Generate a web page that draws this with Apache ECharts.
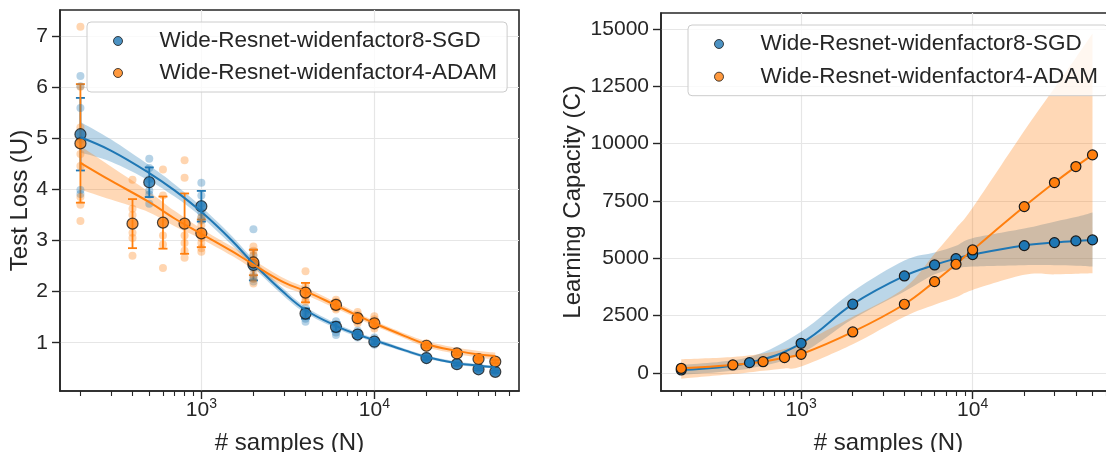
<!DOCTYPE html>
<html>
<head>
<meta charset="utf-8">
<script src="https://cdn.jsdelivr.net/npm/echarts@6/dist/echarts.min.js"></script>
<style>
  html, body { margin: 0; padding: 0; background: #ffffff; }
  #chart { width: 1106px; height: 452px; }
</style>
</head>
<body>
<div id="chart"></div>
<script>
const SGD_NAME = 'Wide-Resnet-widenfactor8-SGD';
const ADAM_NAME = 'Wide-Resnet-widenfactor4-ADAM';

// ---- Test loss (left panel) ----
const sgdSamples = [200, 500, 1000, 2000, 4000, 6000, 8000, 10000, 20000, 30000, 40000, 50000];
const sgdLossMean = [5.08, 4.14, 3.67, 2.52, 1.57, 1.31, 1.16, 1.02, 0.70, 0.58, 0.48, 0.43];
const sgdLossStd = [0.71, 0.29, 0.30, 0.30, 0.10, 0.09, 0.06, 0.05, 0.03, 0.03, 0.02, 0.02];
const sgdLossRuns = [
  [6.22, 6.02, 5.59, 4.97, 3.99, 3.91],
  [4.60, 4.42, 4.20, 3.98, 3.90, 3.72],
  [4.13, 3.88, 3.72, 3.55, 3.45, 3.39],
  [3.22, 2.70, 2.55, 2.45, 2.30, 2.25, 2.20],
  [1.68, 1.62, 1.57, 1.52, 1.47, 1.41],
  [1.42, 1.36, 1.31, 1.26, 1.20, 1.15],
  [1.24, 1.20, 1.16, 1.13, 1.10],
  [1.10, 1.06, 1.02, 0.99, 0.96],
  [0.75, 0.72, 0.70, 0.68, 0.66],
  [0.62, 0.60, 0.58, 0.56],
  [0.51, 0.49, 0.48, 0.46],
  [0.46, 0.44, 0.43, 0.41]
];

const adamSamples = [200, 400, 600, 800, 1000, 2000, 4000, 6000, 8000, 10000, 20000, 30000, 40000, 50000];
const adamLossMean = [4.90, 3.33, 3.35, 3.33, 3.14, 2.57, 1.98, 1.74, 1.48, 1.38, 0.94, 0.79, 0.68, 0.63];
const adamLossStd = [1.16, 0.48, 0.51, 0.59, 0.27, 0.25, 0.19, 0.08, 0.07, 0.07, 0.04, 0.03, 0.03, 0.03];
const adamLossRuns = [
  [7.18, 6.01, 5.21, 5.10, 4.69, 4.46, 3.85, 3.70, 3.38],
  [4.19, 3.62, 3.50, 3.15, 3.05, 2.70],
  [4.39, 3.88, 3.35, 3.10, 2.92, 2.46],
  [4.57, 4.23, 3.10, 2.95, 2.80, 2.66],
  [3.45, 3.30, 3.15, 3.05, 2.95, 2.85, 2.78],
  [2.88, 2.80, 2.72, 2.62, 2.50, 2.35, 2.25, 2.16],
  [2.40, 2.10, 2.00, 1.92, 1.85, 1.80],
  [1.84, 1.80, 1.76, 1.72, 1.68, 1.65],
  [1.60, 1.55, 1.50, 1.46, 1.42, 1.38],
  [1.52, 1.46, 1.40, 1.36, 1.32, 1.28],
  [0.99, 0.96, 0.94, 0.92, 0.90],
  [0.83, 0.80, 0.79, 0.77],
  [0.71, 0.68, 0.67, 0.65],
  [0.66, 0.63, 0.61, 0.60]
];

// Fitted loss curves with confidence bands
const fitSamples = [200, 300, 500, 700, 1000, 1500, 2000, 3000, 4000, 6000, 8000, 10000, 15000, 20000, 30000, 40000, 50000];
const sgdFit = [5.02, 4.76, 4.32, 3.98, 3.56, 3.00, 2.55, 1.98, 1.64, 1.33, 1.16, 1.05, 0.85, 0.72, 0.60, 0.55, 0.52];
const sgdFitLow = [4.72, 4.54, 4.17, 3.86, 3.46, 2.91, 2.47, 1.91, 1.58, 1.28, 1.12, 1.01, 0.82, 0.69, 0.57, 0.52, 0.49];
const sgdFitHigh = [5.32, 4.98, 4.47, 4.10, 3.66, 3.09, 2.63, 2.05, 1.70, 1.38, 1.20, 1.09, 0.88, 0.75, 0.63, 0.58, 0.55];
const adamFit = [4.52, 4.17, 3.75, 3.43, 3.13, 2.79, 2.53, 2.18, 2.01, 1.73, 1.53, 1.38, 1.13, 0.97, 0.84, 0.77, 0.74];
const adamFitLow = [4.00, 3.80, 3.55, 3.28, 3.03, 2.70, 2.44, 2.10, 1.94, 1.67, 1.48, 1.33, 1.08, 0.91, 0.78, 0.71, 0.67];
const adamFitHigh = [4.85, 4.45, 3.95, 3.58, 3.23, 2.88, 2.62, 2.26, 2.08, 1.79, 1.58, 1.43, 1.18, 1.03, 0.90, 0.84, 0.81];

// ---- Learning capacity (right panel) ----
const sgdCapacity = [130, 450, 1295, 3000, 4232, 4712, 4987, 5162, 5555, 5686, 5759, 5803];
const sgdCapacityLow = [-80, 200, 850, 2350, 3550, 4300, 4550, 4640, 4700, 4700, 4680, 4640];
const sgdCapacityHigh = [350, 700, 1800, 3550, 4900, 5250, 5550, 5880, 6300, 6600, 6800, 7000];
const adamCapacity = [205, 350, 493, 668, 815, 1789, 2997, 3984, 4741, 5366, 7256, 8303, 9001, 9511];
const adamCapacityLow = [-250, -50, 100, 200, 280, 1250, 2450, 2970, 3300, 3620, 4280, 4300, 4330, 4350];
const adamCapacityHigh = [600, 700, 850, 1050, 1300, 2450, 3700, 5200, 6300, 7200, 10560, 12430, 13750, 14800];

// ---- Axis ticks ----
const xMajorTicks = [1000, 10000];
const xMinorTicks = [200, 300, 400, 500, 600, 700, 800, 900, 2000, 3000, 4000, 5000, 6000, 7000, 8000, 9000, 20000, 30000, 40000, 50000, 60000];
const lossTicks = [1, 2, 3, 4, 5, 6, 7];
const capacityTicks = [0, 2500, 5000, 7500, 10000, 12500, 15000];

// ---- Styling ----
const BLUE = '#1f77b4';
const ORANGE = '#ff7f0e';
const BLUE_BAND = 'rgba(31,119,180,0.30)';
const ORANGE_BAND = 'rgba(255,127,14,0.30)';
const INK = '#262626';
const GRIDLINE = '#e6e6e6';
const EDGE = '#1a1a1a';
const FONT = "'Liberation Sans', Arial, Helvetica, sans-serif";

const pairs = (xs, ys) => xs.map((x, i) => [x, ys[i]]);
const runPoints = (xs, runs) => xs.flatMap((x, i) => runs[i].map(v => [x, v]));

function majorXAxis(gridIndex) {
  return {
    type: 'log', logBase: 10, gridIndex, min: 152.4, max: 68550, position: 'bottom',
    name: '# samples (N)', nameLocation: 'middle', nameGap: 40,
    nameTextStyle: { fontFamily: FONT, fontSize: 24, color: INK },
    axisLine: { show: true, onZero: false, lineStyle: { color: INK, width: 1.6 } },
    axisTick: { show: true, inside: false, length: 8, customValues: xMajorTicks, lineStyle: { color: INK, width: 1.4 } },
    axisLabel: {
      customValues: xMajorTicks, margin: 6,
      formatter: v => '{b|10}{s|' + Math.round(Math.log10(v)) + '}',
      rich: {
        b: { fontFamily: FONT, fontSize: 21, color: INK, lineHeight: 24, verticalAlign: 'bottom', padding: [7, 0, 0, 0] },
        s: { fontFamily: FONT, fontSize: 14, color: INK, lineHeight: 16, verticalAlign: 'top' }
      }
    },
    splitLine: { show: true, lineStyle: { color: GRIDLINE, width: 1.2 } }
  };
}

function minorXAxis(gridIndex) {
  return {
    type: 'log', logBase: 10, gridIndex, min: 152.4, max: 68550, position: 'bottom',
    axisLine: { show: false, onZero: false },
    axisTick: { show: true, inside: false, length: 5, customValues: xMinorTicks, lineStyle: { color: INK, width: 1.1 } },
    axisLabel: { show: false },
    splitLine: { show: false }
  };
}

function valueYAxis(gridIndex, min, max, ticks, name, nameGap) {
  return {
    type: 'value', gridIndex, min, max,
    name, nameLocation: 'middle', nameGap,
    nameTextStyle: { fontFamily: FONT, fontSize: 24, color: INK },
    axisLine: { show: true, onZero: false, lineStyle: { color: INK, width: 1.6 } },
    axisTick: { show: true, inside: false, length: 8, customValues: ticks, lineStyle: { color: INK, width: 1.4 } },
    axisLabel: { customValues: ticks, margin: 12, formatter: v => String(v), fontFamily: FONT, fontSize: 21, color: INK },
    splitLine: { show: true, lineStyle: { color: GRIDLINE, width: 1.2 } }
  };
}

// Cubic Bezier segments through screen points (Catmull-Rom control points)
function smoothSegments(pts) {
  let d = '';
  for (let i = 0; i < pts.length - 1; i++) {
    const p0 = pts[Math.max(i - 1, 0)], p1 = pts[i], p2 = pts[i + 1], p3 = pts[Math.min(i + 2, pts.length - 1)];
    const c1x = p1[0] + (p2[0] - p0[0]) / 6, c1y = p1[1] + (p2[1] - p0[1]) / 6;
    const c2x = p2[0] - (p3[0] - p1[0]) / 6, c2y = p2[1] - (p3[1] - p1[1]) / 6;
    d += ' C ' + c1x + ' ' + c1y + ' ' + c2x + ' ' + c2y + ' ' + p2[0] + ' ' + p2[1];
  }
  return d;
}

// Shaded confidence band between a lower and an upper bound
function band(id, xs, lo, hi, fill, xi, yi) {
  return {
    type: 'custom', name: id, xAxisIndex: xi, yAxisIndex: yi, silent: true, clip: true,
    data: xs.map((x, i) => [x, lo[i], hi[i]]),
    encode: { x: 0, y: [1, 2] },
    renderItem(params, api) {
      if (params.dataIndex !== 0) return null;
      const top = xs.map((x, i) => api.coord([x, hi[i]]));
      const bottom = xs.map((x, i) => api.coord([x, lo[i]])).reverse();
      const d = 'M ' + top[0][0] + ' ' + top[0][1] + smoothSegments(top) +
        ' L ' + bottom[0][0] + ' ' + bottom[0][1] + smoothSegments(bottom) + ' Z';
      return { type: 'path', shape: { pathData: d }, style: { fill, stroke: null } };
    }
  };
}

function curve(id, xs, ys, color, xi, yi, withMarkers) {
  return {
    type: 'line', name: id, xAxisIndex: xi, yAxisIndex: yi, data: pairs(xs, ys),
    smooth: 0.4, silent: true,
    symbol: withMarkers ? 'circle' : 'none', symbolSize: 10, showSymbol: !!withMarkers,
    lineStyle: { color, width: 2 },
    itemStyle: { color, borderColor: EDGE, borderWidth: 1.2 }
  };
}

function errorBars(id, xs, mean, std, color, xi, yi) {
  return {
    type: 'custom', name: id, xAxisIndex: xi, yAxisIndex: yi, silent: true,
    data: xs.map((x, i) => [x, mean[i] - std[i], mean[i] + std[i]]),
    encode: { x: 0, y: [1, 2] },
    renderItem(params, api) {
      const x = api.value(0);
      const a = api.coord([x, api.value(1)]);
      const b = api.coord([x, api.value(2)]);
      const cap = 4.5;
      const style = { stroke: color, lineWidth: 1.8 };
      return {
        type: 'group', children: [
          { type: 'line', shape: { x1: a[0], y1: a[1], x2: b[0], y2: b[1] }, style },
          { type: 'line', shape: { x1: a[0] - cap, y1: a[1], x2: a[0] + cap, y2: a[1] }, style },
          { type: 'line', shape: { x1: b[0] - cap, y1: b[1], x2: b[0] + cap, y2: b[1] }, style }
        ]
      };
    }
  };
}

function runScatter(id, xs, runs, color) {
  return {
    type: 'scatter', name: id, xAxisIndex: 0, yAxisIndex: 0, silent: true,
    data: runPoints(xs, runs), symbolSize: 8,
    itemStyle: { color, opacity: 0.33 }
  };
}

function meanScatter(name, xs, ys, color) {
  return {
    type: 'scatter', name, xAxisIndex: 0, yAxisIndex: 0, silent: true,
    data: pairs(xs, ys), symbolSize: 11,
    itemStyle: { color, borderColor: EDGE, borderWidth: 1.2 }
  };
}

function legendBox(left, top, gap) {
  return {
    left, top, orient: 'vertical', selectedMode: false,
    itemWidth: 9, itemHeight: 9, itemGap: gap,
    padding: [7, 10, 7, 26],
    backgroundColor: 'rgba(255,255,255,0.8)', borderColor: '#cccccc', borderWidth: 1, borderRadius: 4,
    textStyle: { fontFamily: FONT, fontSize: 22.5, color: INK, lineHeight: 24, padding: [0, 0, 0, 32] },
    data: [
      { name: SGD_NAME, icon: 'circle', itemStyle: { color: BLUE, borderColor: EDGE, borderWidth: 1 } },
      { name: ADAM_NAME, icon: 'circle', itemStyle: { color: ORANGE, borderColor: EDGE, borderWidth: 1 } }
    ]
  };
}

const gridBase = {
  show: true, borderColor: INK, borderWidth: 1.6, backgroundColor: 'transparent',
  containLabel: false, outerBoundsMode: 'none'
};

const option = {
  animation: false,
  backgroundColor: '#ffffff',
  grid: [
    Object.assign({ left: 60, top: 10, width: 459, height: 381 }, gridBase),
    Object.assign({ left: 661, top: 13, width: 455, height: 378 }, gridBase)
  ],
  xAxis: [majorXAxis(0), minorXAxis(0), majorXAxis(1), minorXAxis(1)],
  yAxis: [
    valueYAxis(0, 0.055, 7.51, lossTicks, 'Test Loss (U)', 22),
    valueYAxis(1, -786, 15698, capacityTicks, 'Learning Capacity (C)', 76)
  ],
  legend: [legendBox(87, 22, 8), legendBox(688, 25, 8.7)],
  series: [
    // left panel: test loss
    band('sgd-loss-band', fitSamples, sgdFitLow, sgdFitHigh, BLUE_BAND, 0, 0),
    curve('sgd-loss-fit', fitSamples, sgdFit, BLUE, 0, 0, false),
    band('adam-loss-band', fitSamples, adamFitLow, adamFitHigh, ORANGE_BAND, 0, 0),
    curve('adam-loss-fit', fitSamples, adamFit, ORANGE, 0, 0, false),
    runScatter('sgd-loss-runs', sgdSamples, sgdLossRuns, BLUE),
    runScatter('adam-loss-runs', adamSamples, adamLossRuns, ORANGE),
    errorBars('sgd-loss-err', sgdSamples, sgdLossMean, sgdLossStd, BLUE, 0, 0),
    errorBars('adam-loss-err', adamSamples, adamLossMean, adamLossStd, ORANGE, 0, 0),
    meanScatter(SGD_NAME, sgdSamples, sgdLossMean, BLUE),
    meanScatter(ADAM_NAME, adamSamples, adamLossMean, ORANGE),
    // right panel: learning capacity
    band('sgd-cap-band', sgdSamples, sgdCapacityLow, sgdCapacityHigh, BLUE_BAND, 2, 1),
    band('adam-cap-band', adamSamples, adamCapacityLow, adamCapacityHigh, ORANGE_BAND, 2, 1),
    curve('sgd-capacity', sgdSamples, sgdCapacity, BLUE, 2, 1, true),
    curve('adam-capacity', adamSamples, adamCapacity, ORANGE, 2, 1, true)
  ]
};

const chart = echarts.init(document.getElementById('chart'), null, { renderer: 'canvas' });
chart.setOption(option);
</script>
</body>
</html>
